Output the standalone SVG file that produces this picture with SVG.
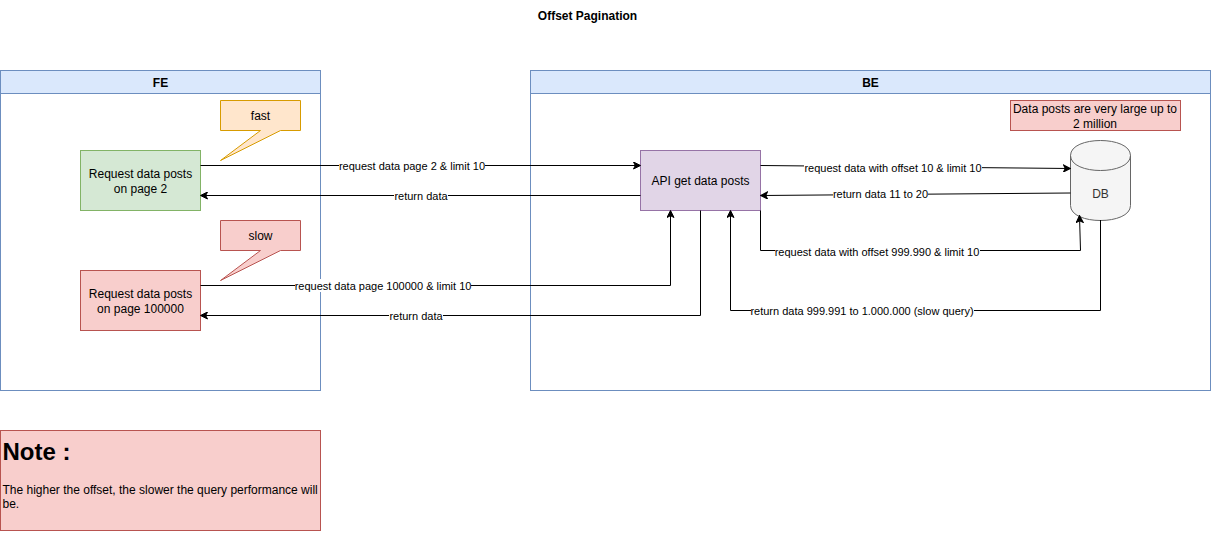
<svg xmlns="http://www.w3.org/2000/svg" width="1211" height="533" viewBox="0 0 1211 533">
<style>
text{font-family:"Liberation Sans",Arial,sans-serif;font-size:12px;fill:#000;text-anchor:middle}
.lbl{font-size:11px}
.h{font-weight:bold}
.c{fill:none;stroke:#000;stroke-width:1}
.bl{fill:#dae8fc;stroke:#6c8ebf}
.w{fill:none;stroke:#6c8ebf}
.r{fill:#f8cecc;stroke:#b85450}
.g{fill:#d5e8d4;stroke:#82b366}
.o{fill:#ffe6cc;stroke:#d79b00}
.p{fill:#e1d5e7;stroke:#9673a6}
.bg{fill:#fff;stroke:none}
</style>
<defs><marker id="a" viewBox="0 0 8 8" refX="7" refY="4" markerWidth="8" markerHeight="8" markerUnits="userSpaceOnUse" orient="auto"><path d="M0.5 0.5L7.5 4L0.5 7.5L2.3 4Z" fill="#000" stroke="#000"/></marker></defs>
<rect width="1211" height="533" fill="#fff"/>
<text class="h" x="587.500" y="20">Offset Pagination</text>
<g id="fe"><rect class="w" x="0.500" y="70.500" width="320" height="320"/><rect class="bl" x="0.500" y="70.500" width="320" height="23"/><text class="h" x="160.500" y="87">FE</text></g>
<g id="be"><rect class="w" x="530.500" y="70.500" width="680" height="320"/><rect class="bl" x="530.500" y="70.500" width="680" height="23"/><text class="h" x="870.500" y="87">BE</text></g>
<g id="fast"><path class="o" d="M220.500 100.500H300.500V130.500H280.500L220.500 160.500L260.500 130.500H220.500Z"/><text x="260.500" y="120">fast</text></g>
<g id="slow"><path class="r" d="M220.500 220.500H300.500V250.500H280.500L220.500 280.500L260.500 250.500H220.500Z"/><text x="260.500" y="240">slow</text></g>
<g id="req2"><rect class="g" x="80.500" y="150.500" width="120" height="60"/><text x="140.500" y="178">Request data posts</text><text x="140.500" y="193">on page 2</text></g>
<g id="req100000"><rect class="r" x="80.500" y="270.500" width="120" height="60"/><text x="140.500" y="298">Request data posts</text><text x="140.500" y="313">on page 100000</text></g>
<g id="api"><rect class="p" x="640.500" y="150.500" width="120" height="60"/><text x="700.500" y="185">API get data posts</text></g>
<g id="db"><path d="M1070.500 155.500C1070.500 135.500 1130.500 135.500 1130.500 155.500V205.500C1130.500 225.500 1070.500 225.500 1070.500 205.500Z" fill="#f5f5f5" stroke="#666"/><path d="M1070.500 155.500C1070.500 175.500 1130.500 175.500 1130.500 155.500" fill="none" stroke="#666"/><text x="1100.500" y="198" style="fill:#333">DB</text></g>
<g id="large"><rect class="r" x="1010.500" y="100.500" width="170" height="30"/><text x="1095" y="113">Data posts are very large up to</text><text x="1095" y="128">2 million</text></g>
<g id="note"><rect class="r" x="0.500" y="430.500" width="320" height="100"/><text x="2.500" y="460" style="font-size:24px;font-weight:bold;text-anchor:start">Note :</text><text x="2.500" y="494" style="text-anchor:start">The higher the offset, the slower the query performance will</text><text x="2.500" y="508" style="text-anchor:start">be.</text></g>
<g id="connectors">
<path class="c" marker-end="url(#a)" d="M200.500 165.500H640"/>
<path class="c" marker-end="url(#a)" d="M640.500 195.500H201"/>
<path class="c" marker-end="url(#a)" d="M200.500 285.500H670.500V211"/>
<path class="c" marker-end="url(#a)" d="M700.500 210.500V315.500H201"/>
<path class="c" marker-end="url(#a)" d="M760.500 165.500L1070 168.500"/>
<path class="c" marker-end="url(#a)" d="M1070.500 193L761 195.500"/>
<path class="c" marker-end="url(#a)" d="M760.500 210.500V250.500H1080.500L1079.500 216"/>
<path class="c" marker-end="url(#a)" d="M1100.500 220V310.500H730.500V211"/>
<g class="labels">
<rect class="bg" x="339" y="159" width="146" height="13"/><text class="lbl" x="412" y="169.500">request data page 2 &amp; limit 10</text>
<rect class="bg" x="394" y="189" width="54" height="13"/><text class="lbl" x="421" y="199.500">return data</text>
<rect class="bg" x="295" y="279" width="176" height="13"/><text class="lbl" x="383" y="289.500">request data page 100000 &amp; limit 10</text>
<rect class="bg" x="389" y="309" width="54" height="13"/><text class="lbl" x="416" y="319.500">return data</text>
<rect class="bg" x="804" y="161" width="178" height="13"/><text class="lbl" x="893" y="171.500">request data with offset 10 &amp; limit 10</text>
<rect class="bg" x="833" y="187" width="95" height="13"/><text class="lbl" x="880.500" y="197.500">return data 11 to 20</text>
<rect class="bg" x="775" y="245" width="205" height="13"/><text class="lbl" x="877" y="255.500">request data with offset 999.990 &amp; limit 10</text>
<rect class="bg" x="751" y="304" width="223" height="13"/><text class="lbl" x="862" y="314.500">return data 999.991 to 1.000.000 (slow query)</text>
</g>
</g>
</svg>
